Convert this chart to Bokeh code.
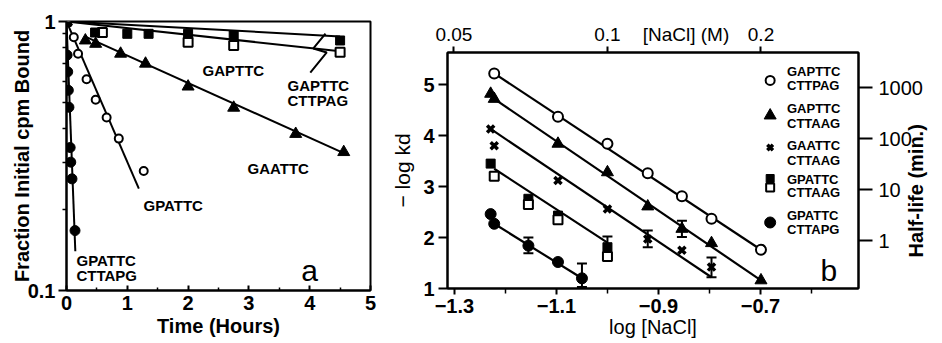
import math
from bokeh.plotting import figure
from bokeh.layouts import row, column
from bokeh.models import (Range1d, LinearAxis, FixedTicker, Label, Whisker, TeeHead,
                          ColumnDataSource, CustomJSTickFormatter)
from bokeh.embed import file_html
from bokeh.resources import INLINE

FONT = "Liberation Sans"

# ---------------- Panel a : dissociation time courses ----------------
# time in hours, fraction of initial cpm bound
a_gpattc_cttapg_t = [0, 0.01, 0.02, 0.03, 0.04, 0.06, 0.07, 0.09, 0.14]
a_gpattc_cttapg_f = [1.0, 0.75, 0.65, 0.555, 0.48, 0.34, 0.30, 0.26, 0.167]
a_gpattc_t = [0, 0.12, 0.19, 0.33, 0.48, 0.66, 0.86, 1.27]
a_gpattc_f = [1.0, 0.874, 0.759, 0.61, 0.512, 0.44, 0.367, 0.278]
a_gaattc_t = [0, 0.31, 0.48, 0.89, 1.3, 2.0, 2.75, 3.77, 4.56]
a_gaattc_f = [1.0, 0.85, 0.826, 0.759, 0.697, 0.573, 0.478, 0.382, 0.327]
a_gapttc_t = [0, 0.47, 1.0, 1.35, 2.0, 2.75, 4.5]
a_gapttc_f = [1.0, 0.91, 0.90, 0.90, 0.90, 0.887, 0.85]
a_gapttc_cttpag_t = [0, 0.59, 2.0, 2.75, 4.5]
a_gapttc_cttpag_f = [1.0, 0.91, 0.838, 0.814, 0.769]

# fitted lines (start, end)
fit_gpattc_cttapg_t = [0, 0.145]
fit_gpattc_cttapg_f = [1.0, 0.14]
fit_gpattc_t = [0, 1.19]
fit_gpattc_f = [1.0, 0.239]
fit_gaattc_t = [0.3, 4.56]
fit_gaattc_f = [0.88, 0.324]
fit_gapttc_t = [0, 4.5]
fit_gapttc_f = [1.0, 0.88]
fit_gapttc_cttpag_t = [0, 4.5]
fit_gapttc_cttpag_f = [1.0, 0.775]

a_xticks = [0, 1, 2, 3, 4, 5]
a_yticks = [0.1, 1]

# ---------------- Panel b : salt dependence ----------------
b_oc_x = [-1.222, -1.097, -1.0, -0.921, -0.854, -0.796, -0.699]   # GAPTTC/CTTPAG
b_oc_y = [5.22, 4.37, 3.84, 3.26, 2.81, 2.37, 1.76]
b_tr_x = [-1.229, -1.222, -1.097, -1.0, -0.921, -0.854, -0.796, -0.699]  # GAPTTC/CTTAAG
b_tr_y = [4.82, 4.72, 3.84, 3.28, 2.61, 2.17, 1.89, 1.16]
b_x_x = [-1.229, -1.222, -1.097, -1.0, -0.921, -0.854, -0.796]  # GAATTC/CTTAAG
b_x_y = [4.13, 3.80, 3.12, 2.56, 1.97, 1.75, 1.42]
b_fs_x = [-1.229, -1.155, -1.097, -1.0]   # GPATTC/CTTAAG (filled)
b_fs_y = [3.45, 2.76, 2.43, 1.81]
b_os_x = [-1.222, -1.155, -1.097, -1.0]   # GPATTC/CTTAAG (open)
b_os_y = [3.20, 2.65, 2.35, 1.63]
b_fc_x = [-1.229, -1.222, -1.155, -1.097, -1.05]  # GPATTC/CTTAPG
b_fc_y = [2.46, 2.27, 1.84, 1.52, 1.20]

# error bars
err_x = [-1.155, -1.05, -1.0, -0.921, -0.796, -0.854]
err_lo = [1.69, 1.03, 1.60, 1.81, 1.22, 2.01]
err_hi = [2.00, 1.49, 2.02, 2.14, 1.61, 2.33]

# fitted lines
bfit_oc_x = [-1.222, -0.699]; bfit_oc_y = [5.22, 1.76]
bfit_tr_x = [-1.222, -0.699]; bfit_tr_y = [4.72, 1.16]
bfit_x_x = [-1.229, -0.796]; bfit_x_y = [4.13, 1.22]
bfit_sq_x = [-1.222, -1.0]; bfit_sq_y = [3.35, 1.90]
bfit_fc_x = [-1.222, -1.05]; bfit_fc_y = [2.27, 1.20]

b_xticks = [-1.3, -1.1, -0.9, -0.7]
b_xminor = [-1.2, -1.0, -0.8, -0.6]
b_yticks = [1, 2, 3, 4, 5]
conc_ticks = [0.05, 0.1, 0.2]
halflife_ticks = [1, 10, 100, 1000]

H = 342


def style_axis(ax, size="20px", bold=True):
    ax.axis_line_width = 2
    ax.axis_line_color = "black"
    ax.major_tick_line_width = 2
    ax.minor_tick_line_width = 1.5
    ax.major_label_text_font = FONT
    ax.major_label_text_font_size = size
    ax.major_label_text_font_style = "bold" if bold else "normal"
    ax.major_label_text_color = "black"
    ax.axis_label_text_font = FONT
    ax.axis_label_text_color = "black"


def lab(p, x, y, text, size="15px", bold=True, align="left", angle=0.0):
    p.add_layout(Label(x=x, y=y, text=text, text_font=FONT, text_font_size=size,
                       text_font_style="bold" if bold else "normal", text_align=align,
                       text_baseline="middle", angle=angle, text_color="black"))


# ================= figure a =================
pa = figure(width=385, height=H, x_range=Range1d(0, 5), y_range=Range1d(0.1, 1),
            y_axis_type="log", output_backend="svg", toolbar_location=None,
            min_border_left=66, min_border_right=15, min_border_top=21, min_border_bottom=H - 290)
pa.grid.visible = False
pa.outline_line_color = "black"
pa.outline_line_width = 2

xa = pa.xaxis[0]
style_axis(xa)
xa.ticker = FixedTicker(ticks=a_xticks, minor_ticks=[v + 0.5 for v in a_xticks[:-1]])
xa.major_tick_in = 5
xa.major_tick_out = 0
xa.minor_tick_in = 3
xa.minor_tick_out = 0
xa.major_label_standoff = 5
xa.axis_label = "Time (Hours)"
xa.axis_label_text_font_size = "20px"
xa.axis_label_text_font_style = "bold"
xa.axis_label_standoff = 2

ya = pa.yaxis[0]
style_axis(ya)
ya.ticker = FixedTicker(ticks=a_yticks, minor_ticks=[0.2, 0.3, 0.4, 0.5, 0.6, 0.7, 0.8, 0.9])
ya.major_label_overrides = {0.1: "0.1", 1: "1"}
ya.major_tick_in = 0
ya.major_tick_out = 8
ya.minor_tick_in = 0
ya.minor_tick_out = 4
ya.major_label_standoff = 3
ya.axis_label = "Fraction Initial cpm Bound"
ya.axis_label_text_font_size = "20px"
ya.axis_label_text_font_style = "bold"
ya.axis_label_standoff = -8

for t, f in [(fit_gpattc_cttapg_t, fit_gpattc_cttapg_f), (fit_gpattc_t, fit_gpattc_f),
             (fit_gaattc_t, fit_gaattc_f), (fit_gapttc_t, fit_gapttc_f),
             (fit_gapttc_cttpag_t, fit_gapttc_cttpag_f)]:
    pa.line(t, f, line_color="black", line_width=2)

pa.scatter(a_gapttc_cttpag_t, a_gapttc_cttpag_f, marker="square", size=9,
           fill_color="white", line_color="black", line_width=2)
pa.scatter(a_gapttc_t, a_gapttc_f, marker="square", size=9,
           fill_color="black", line_color="black")
pa.scatter(a_gaattc_t, a_gaattc_f, marker="triangle", size=12,
           fill_color="black", line_color="black")
pa.scatter(a_gpattc_t, a_gpattc_f, marker="circle", size=8,
           fill_color="white", line_color="black", line_width=2)
pa.scatter(a_gpattc_cttapg_t, a_gpattc_cttapg_f, marker="circle", size=10,
           fill_color="black", line_color="black")

# lightning-bolt pointer
bolt_t = [4.26, 4.06, 4.28, 4.01]
bolt_f = [0.902, 0.794, 0.767, 0.646]
pa.line(bolt_t, bolt_f, line_color="black", line_width=2)

lab(pa, 2.237, 0.657, "GAPTTC")
lab(pa, 3.635, 0.578, "GAPTTC")
lab(pa, 3.635, 0.508, "CTTPAG")
lab(pa, 2.977, 0.284, "GAATTC")
lab(pa, 1.266, 0.207, "GPATTC")
lab(pa, 0.164, 0.129, "GPATTC")
lab(pa, 0.164, 0.114, "CTTAPG")
lab(pa, 4.0, 0.1186, "a", size="30px", bold=False, align="center")

# ================= figure b =================
off = math.log10(60 / math.log(2))   # -log kd (s^-1) -> log half-life (min)
ylo, yhi = 1.0, 5.63
xlo, xhi = -1.3136, -0.5078
WB = 556
pb = figure(width=WB, height=H, x_range=Range1d(xlo, xhi), y_range=Range1d(ylo, yhi),
            output_backend="svg", toolbar_location=None,
            min_border_left=62, min_border_right=WB - 477, min_border_top=52,
            min_border_bottom=H - 288)
pb.grid.visible = False
pb.outline_line_color = "black"
pb.outline_line_width = 2

xb = pb.xaxis[0]
style_axis(xb)
xb.ticker = FixedTicker(ticks=b_xticks, minor_ticks=b_xminor)
xb.major_tick_in = 0
xb.major_tick_out = 6
xb.minor_tick_in = 0
xb.minor_tick_out = 5
xb.major_label_standoff = 4
xb.axis_label = "log [NaCl]"
xb.axis_label_text_font_size = "20px"
xb.axis_label_text_font_style = "normal"
xb.axis_label_standoff = 0

yb = pb.yaxis[0]
style_axis(yb)
yb.ticker = FixedTicker(ticks=b_yticks)
yb.major_tick_in = 0
yb.major_tick_out = 9
yb.minor_tick_out = 0
yb.minor_tick_in = 0
yb.major_label_standoff = 4
yb.axis_label = "− log kd"
yb.axis_label_text_font_size = "21px"
yb.axis_label_text_font_style = "normal"
yb.axis_label_standoff = 6

# top axis: tick marks adjacent to the frame, labels on a second axis outside it
pb.extra_x_ranges = {"conc": Range1d(xlo, xhi)}
conc_pos = [math.log10(c) for c in conc_ticks]
top_ticks = LinearAxis(x_range_name="conc", ticker=FixedTicker(ticks=conc_pos))
style_axis(top_ticks, size="1px", bold=False)
top_ticks.major_label_text_alpha = 0
top_ticks.major_tick_in = 0
top_ticks.major_tick_out = 6
top_ticks.minor_tick_in = 0
top_ticks.minor_tick_out = 0
top_ticks.major_label_standoff = 0
pb.add_layout(top_ticks, "above")

nacl_title_x = -0.846
top_labels = LinearAxis(x_range_name="conc",
                        ticker=FixedTicker(ticks=conc_pos[:2] + [nacl_title_x] + conc_pos[2:]),
                        formatter=CustomJSTickFormatter(
                            args=dict(lab=nacl_title_x),
                            code="if (Math.abs(tick - lab) < 1e-9) { return '[NaCl] (M)'; }"
                                 " return String(Number(Math.pow(10, tick).toPrecision(2)));"))
style_axis(top_labels, size="19px", bold=False)
top_labels.axis_line_alpha = 0
top_labels.major_tick_in = 0
top_labels.major_tick_out = 0
top_labels.minor_tick_in = 0
top_labels.minor_tick_out = 0
top_labels.major_label_standoff = 2
pb.add_layout(top_labels, "above")

# right axis: half-life in minutes
pb.extra_y_ranges = {"hl": Range1d(ylo - off, yhi - off)}
right = LinearAxis(y_range_name="hl",
                   ticker=FixedTicker(ticks=[math.log10(h) for h in halflife_ticks]),
                   formatter=CustomJSTickFormatter(code="return String(Math.round(Math.pow(10, tick)));"))
style_axis(right, size="20px", bold=False)
right.major_tick_in = 0
right.major_tick_out = 14
right.minor_tick_in = 0
right.minor_tick_out = 0
right.major_label_standoff = 6
pb.add_layout(right, "right")

# its title, written bottom-to-top, starting at a fixed height
hl_title_start = 1.608
right_title = LinearAxis(ticker=FixedTicker(ticks=[hl_title_start]),
                         formatter=CustomJSTickFormatter(code="return 'Half-life (min.)';"))
style_axis(right_title, size="20px", bold=True)
right_title.axis_line_alpha = 0
right_title.major_tick_in = 0
right_title.major_tick_out = 0
right_title.minor_tick_in = 0
right_title.minor_tick_out = 0
right_title.major_label_orientation = math.pi / 2
right_title.major_label_standoff = -9
pb.add_layout(right_title, "right")

for xs, ys in [(bfit_oc_x, bfit_oc_y), (bfit_tr_x, bfit_tr_y), (bfit_x_x, bfit_x_y),
               (bfit_sq_x, bfit_sq_y), (bfit_fc_x, bfit_fc_y)]:
    pb.line(xs, ys, line_color="black", line_width=2.2)

wsrc = ColumnDataSource(dict(base=err_x, lower=err_lo, upper=err_hi))
pb.add_layout(Whisker(source=wsrc, base="base", lower="lower", upper="upper", dimension="height",
                      line_width=2, line_color="black",
                      upper_head=TeeHead(size=10, line_width=2, line_color="black"),
                      lower_head=TeeHead(size=10, line_width=2, line_color="black")))

pb.scatter(b_oc_x, b_oc_y, marker="circle", size=10, fill_color="white", line_color="black", line_width=2)
pb.scatter(b_tr_x, b_tr_y, marker="triangle", size=12, fill_color="black", line_color="black")
pb.scatter(b_x_x, b_x_y, marker="x", size=10, line_color="black", line_width=3.5)
pb.scatter(b_fs_x, b_fs_y, marker="square", size=9, fill_color="black", line_color="black")
pb.scatter(b_os_x, b_os_y, marker="square", size=9, fill_color="white", line_color="black", line_width=2)
pb.scatter(b_fc_x, b_fc_y, marker="circle", size=11, fill_color="black", line_color="black")

# legend (drawn manually: two-line labels)
LX, TX = -0.681, -0.648
pb.scatter([LX], [5.081], marker="circle", size=9, fill_color="white", line_color="black", line_width=2)
pb.scatter([LX], [4.394], marker="triangle", size=12, fill_color="black", line_color="black")
pb.scatter([LX], [3.766], marker="x", size=8, line_color="black", line_width=3.5)
pb.scatter([LX], [3.158], marker="square", size=8, fill_color="black", line_color="black")
pb.scatter([LX], [2.982], marker="square", size=8, fill_color="white", line_color="black", line_width=2)
pb.scatter([LX], [2.295], marker="circle", size=11, fill_color="black", line_color="black")
legend_lines = [("GAPTTC", "CTTPAG", 5.257, 4.983), ("GAPTTC", "CTTAAG", 4.532, 4.237),
                ("GAATTC", "CTTAAG", 3.806, 3.511), ("GPATTC", "CTTAAG", 3.139, 2.883),
                ("GPATTC", "CTTAPG", 2.432, 2.158)]
for l1, l2, y1, y2 in legend_lines:
    lab(pb, TX, y1, l1, size="13px")
    lab(pb, TX, y2, l2, size="13px")

lab(pb, -0.566, 1.353, "b", size="30px", bold=False, align="center")

layout = row(column(pa), column(pb))
open("out.html", "w").write(file_html(layout, INLINE))
